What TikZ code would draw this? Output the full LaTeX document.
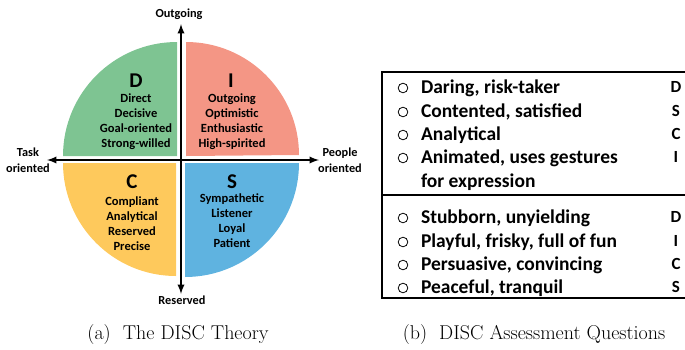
\documentclass[tikz,border=0pt]{standalone}
\usepackage{fontspec}
\newfontfamily\calibri{Carlito}
\usetikzlibrary{arrows}
\definecolor{discD}{RGB}{126,196,146}
\definecolor{discI}{RGB}{244,150,133}
\definecolor{discC}{RGB}{254,201,92}
\definecolor{discS}{RGB}{95,179,224}
\tikzset{
  axis/.style={line width=2.2pt,latex-latex},
  letter/.style={font=\calibri\bfseries\fontsize{21}{24}\selectfont},
  traits/.style={align=center,font=\calibri\bfseries\fontsize{12.5}{15}\selectfont},
  axlabel/.style={align=center,font=\calibri\bfseries\fontsize{12.3}{16}\selectfont},
  question/.style={anchor=west,font=\calibri\bfseries\fontsize{19.5}{23.5}\selectfont,align=left},
  answer/.style={font=\calibri\bfseries\fontsize{17}{18}\selectfont},
  caption/.style={font=\fontsize{20}{22}\selectfont}
}
\begin{document}
\begin{tikzpicture}[x=1pt,y=-1pt]
\clip (0,0) rectangle (685,349) ;
% the four quarters
\fill [discD] (177,156) -- (177,42) arc [start angle=270,end angle=180,radius=114] -- cycle ;
\fill [discI] (186,156) -- (186,42) arc [start angle=270,end angle=360,radius=113] -- cycle ;
\fill [discC] (176,163) -- (63,163) arc [start angle=180,end angle=90,radius=113] -- cycle ;
\fill [discS] (185,163) -- (299,163) arc [start angle=0,end angle=90,radius=114] -- cycle ;
\node [letter] (D) at (136,81) {D} ;
\node [letter] (I) at (231,81) {I} ;
\node [letter] (C) at (132,182) {C} ;
\node [letter] (S) at (232,182) {S} ;
\node [traits] (Dtxt) at (136,122) {Direct\\Decisive\\Goal-oriented\\Strong-willed} ;
\node [traits] (Itxt) at (232,121.5) {Outgoing\\Optimistic\\Enthusiastic\\High-spirited} ;
\node [traits] (Ctxt) at (132,223.5) {Compliant\\Analytical\\Reserved\\Precise} ;
\node [traits] (Stxt) at (232,220.5) {Sympathetic\\Listener\\Loyal\\Patient} ;
% axes
\coordinate (top) at (181,24) ;
\coordinate (bottom) at (181,294) ;
\coordinate (left) at (47,160) ;
\coordinate (right) at (319,160) ;
\draw [axis] (left) -- (right) ;
\draw [axis] (top) -- (bottom) ;
\node [axlabel] (out) at (179,14) {Outgoing} ;
\node [axlabel] (res) at (182,300) {Reserved} ;
\node [axlabel] (task) at (28,160) {Task\\oriented} ;
\node [axlabel] (people) at (340,160) {People\\oriented} ;
\node [caption] (capa) at (178,335) {(a)\ \ The DISC Theory} ;
% questions box
\draw [line width=1.8pt] (690,72) -- (382,72) -- (382,298) -- (690,298) ;
\draw [line width=1.8pt] (382,195) -- (690,195) ;
\foreach \y/\q/\a in {88/{Daring, risk-taker}/D,112/{Contented, satisfied}/S,135/Analytical/C,158/{Animated, uses gestures}/I,
  218/{Stubborn, unyielding}/D,242/{Playful, frisky, full of fun}/I,265/{Persuasive, convincing}/C,288/{Peaceful, tranquil}/S}{
  \draw [line width=0.8pt] (403,\y) circle [radius=4.8] ;
  \node [question] at (417.5,\y) {\q} ;
  \node [answer] at (676,\y-1.5) {\a} ;
}
\node [question] (expr) at (417.5,182) {for expression} ;
\node [caption] (capb) at (534,335) {(b)\ \ DISC Assessment Questions} ;
\end{tikzpicture}
\end{document}
